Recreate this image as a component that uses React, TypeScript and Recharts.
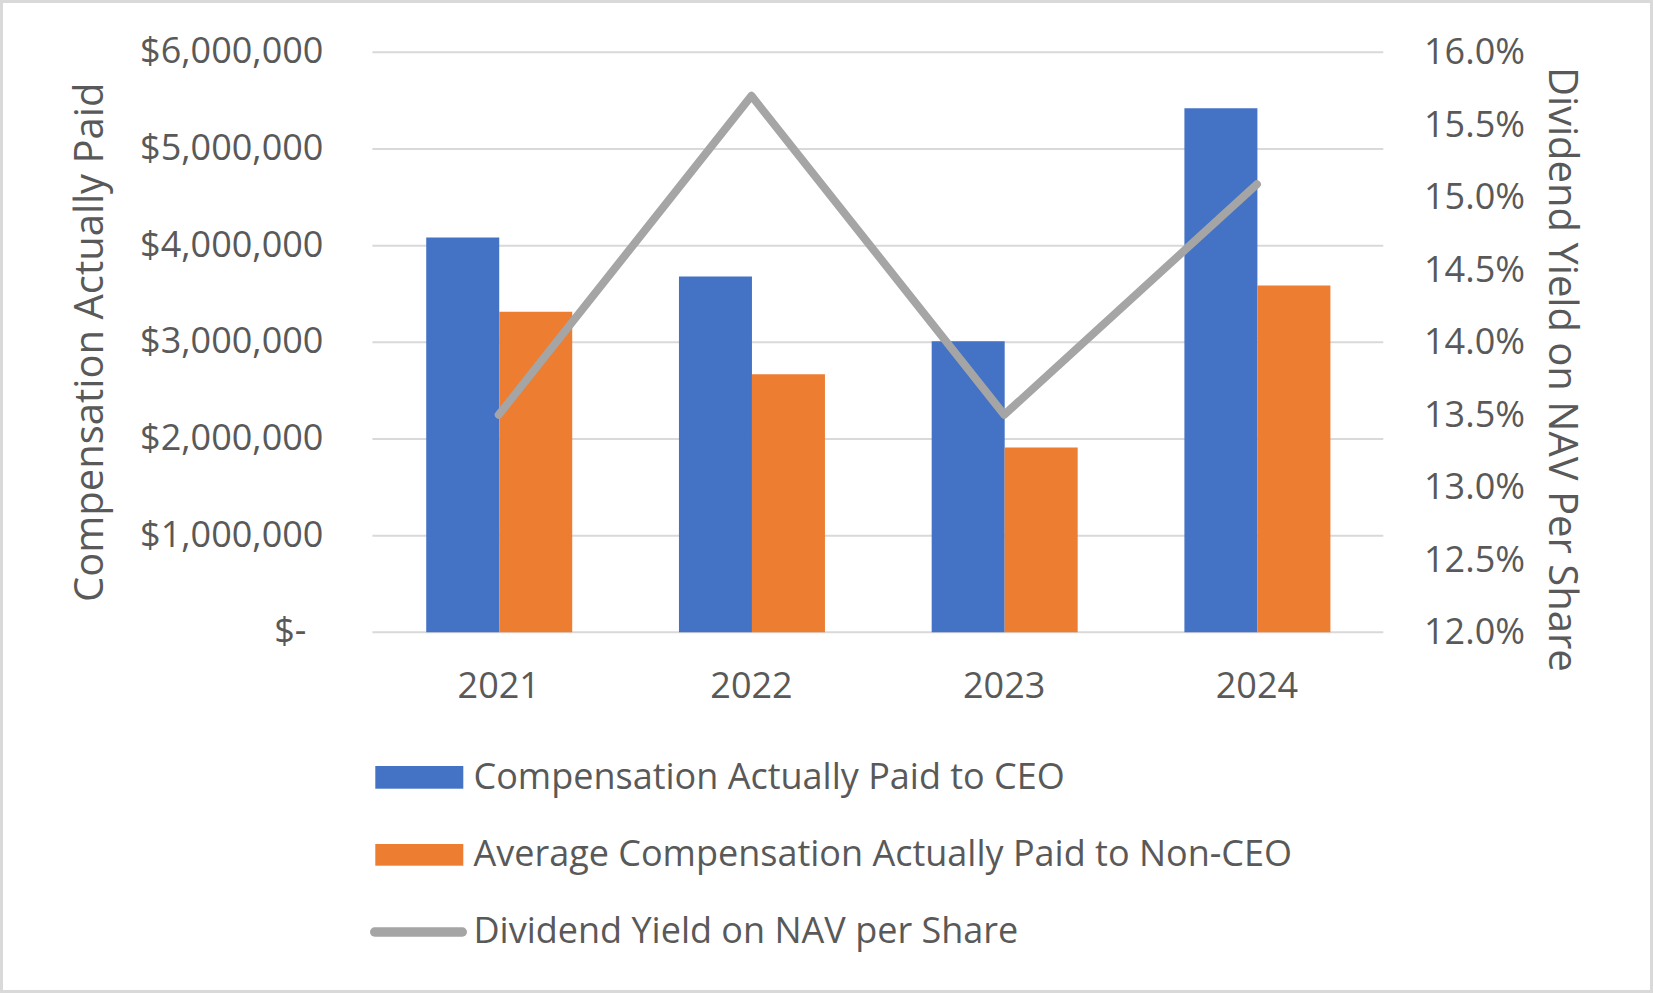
import React from 'react';
import { ComposedChart, Bar, Line, XAxis, YAxis, CartesianGrid, Legend, Label } from 'recharts';

const years = ['2021', '2022', '2023', '2024'];
const ceoPay = [4085000, 3680000, 3010000, 5420000];
const nonCeoPay = [3315000, 2670000, 1912000, 3588000];
const dividendYield = [13.5, 15.7, 13.5, 15.09];
const leftTicks = [0, 1000000, 2000000, 3000000, 4000000, 5000000, 6000000];
const rightTicks = [12, 12.5, 13, 13.5, 14, 14.5, 15, 15.5, 16];

const seriesNames = {
  ceo: 'Compensation Actually Paid to CEO',
  nonCeo: 'Average Compensation Actually Paid to Non-CEO',
  yield: 'Dividend Yield on NAV per Share',
};
const leftTitle = 'Compensation Actually Paid';
const rightTitle = 'Dividend Yield on NAV Per Share';

const data = years.map((y, i) => ({
  year: y,
  ceo: ceoPay[i],
  nonCeo: nonCeoPay[i],
  yield: dividendYield[i],
}));

const FONT = '"Open Sans", sans-serif';
const TEXT = '#595959';
const BLUE = '#4472C4';
const ORANGE = '#ED7D31';
const GRAY = '#A5A5A5';
const GRID = '#D9D9D9';

const W = 1653;
const H = 993;

const LeftTick = (props: any) => {
  const { x, y, payload } = props;
  const v = payload.value as number;
  const label = v === 0 ? '$-' : '$' + v.toLocaleString('en-US');
  return (
    <text x={v === 0 ? x - 66 : x - 49} y={y + 11} textAnchor="end" fill={TEXT} fontSize={36} fontFamily={FONT}>
      {label}
    </text>
  );
};

const RightTick = (props: any) => {
  const { x, y, payload } = props;
  return (
    <text x={x + 40.7} y={y + 12} textAnchor="start" fill={TEXT} fontSize={36} fontFamily={FONT}>
      {(payload.value as number).toFixed(1) + '%'}
    </text>
  );
};

const BottomTick = (props: any) => {
  const { x, y, payload } = props;
  return (
    <text x={x} y={y + 65.7} textAnchor="middle" fill={TEXT} fontSize={36} fontFamily={FONT}>
      {payload.value}
    </text>
  );
};

const LeftTitle = (props: any) => {
  const vb = props.viewBox || { x: 0, y: 52.3, width: 372.4, height: 580 };
  const cx = vb.x + 103.3;
  const cy = vb.y + vb.height / 2;
  return (
    <text x={cx} y={cy} transform={`rotate(-90, ${cx}, ${cy})`} textAnchor="middle" fill={TEXT} fontSize={40} fontFamily={FONT}>
      {leftTitle}
    </text>
  );
};

const RightTitle = (props: any) => {
  const vb = props.viewBox || { x: 1383.3, y: 52.3, width: 269.7, height: 580 };
  const cx = vb.x + 165.7;
  const cy = vb.y + vb.height / 2 + 27;
  return (
    <text x={cx} y={cy} transform={`rotate(90, ${cx}, ${cy})`} textAnchor="middle" fill={TEXT} fontSize={40} fontFamily={FONT}>
      {rightTitle}
    </text>
  );
};

const LegendContent = () => (
  <svg width={1000} height={230} style={{ display: 'block' }}>
    <rect x={15.3} y={26} width={88} height={22.7} fill={BLUE} />
    <text x={113.5} y={49} fill={TEXT} fontSize={36} fontFamily={FONT}>{seriesNames.ceo}</text>
    <rect x={15.3} y={104} width={88} height={21.7} fill={ORANGE} />
    <text x={113.5} y={126} fill={TEXT} fontSize={36} fontFamily={FONT}>{seriesNames.nonCeo}</text>
    <line x1={14.7} x2={102.3} y1={192} y2={192} stroke={GRAY} strokeWidth={9.4} strokeLinecap="round" />
    <text x={113.5} y={203} fill={TEXT} fontSize={36} fontFamily={FONT}>{seriesNames.yield}</text>
  </svg>
);

export default function App() {
  return (
    <div style={{ position: 'absolute', left: 0, top: 0, width: W, height: H, background: '#fff' }}>
      <ComposedChart
        width={W}
        height={H}
        data={data}
        margin={{ top: 52.3, right: 0, bottom: 260.7, left: 0 }}
        barCategoryGap="21.3%"
        barGap={0}
      >
        <CartesianGrid yAxisId="left" vertical={false} stroke={GRID} strokeWidth={2} />
        <XAxis
          dataKey="year"
          height={100}
          axisLine={false}
          tickLine={false}
          tickSize={0}
          tickMargin={0}
          tick={<BottomTick />}
          interval={0}
        />
        <YAxis
          yAxisId="left"
          orientation="left"
          width={372.4}
          domain={[0, 6000000]}
          ticks={leftTicks}
          axisLine={false}
          tickLine={false}
          tickSize={0}
          tickMargin={0}
          tick={<LeftTick />}
          interval={0}
        >
          <Label content={<LeftTitle />} />
        </YAxis>
        <YAxis
          yAxisId="right"
          orientation="right"
          width={269.7}
          domain={[12, 16]}
          ticks={rightTicks}
          axisLine={false}
          tickLine={false}
          tickSize={0}
          tickMargin={0}
          tick={<RightTick />}
          interval={0}
        >
          <Label content={<RightTitle />} />
        </YAxis>
        <Bar yAxisId="left" dataKey="ceo" name={seriesNames.ceo} fill={BLUE} isAnimationActive={false} />
        <Bar yAxisId="left" dataKey="nonCeo" name={seriesNames.nonCeo} fill={ORANGE} isAnimationActive={false} />
        <Line
          yAxisId="right"
          dataKey="yield"
          name={seriesNames.yield}
          type="linear"
          stroke={GRAY}
          strokeWidth={8}
          strokeLinecap="round"
          strokeLinejoin="round"
          dot={false}
          activeDot={false}
          isAnimationActive={false}
        />
        <Legend
          layout="vertical"
          align="center"
          verticalAlign="middle"
          wrapperStyle={{ left: 360, top: 740, width: 1000, height: 230 }}
          content={<LegendContent />}
        />
      </ComposedChart>
      <div
        style={{
          position: 'absolute',
          left: 0,
          top: 0,
          width: W,
          height: H,
          boxSizing: 'border-box',
          border: '3px solid #D9D9D9',
          pointerEvents: 'none',
        }}
      />
    </div>
  );
}
